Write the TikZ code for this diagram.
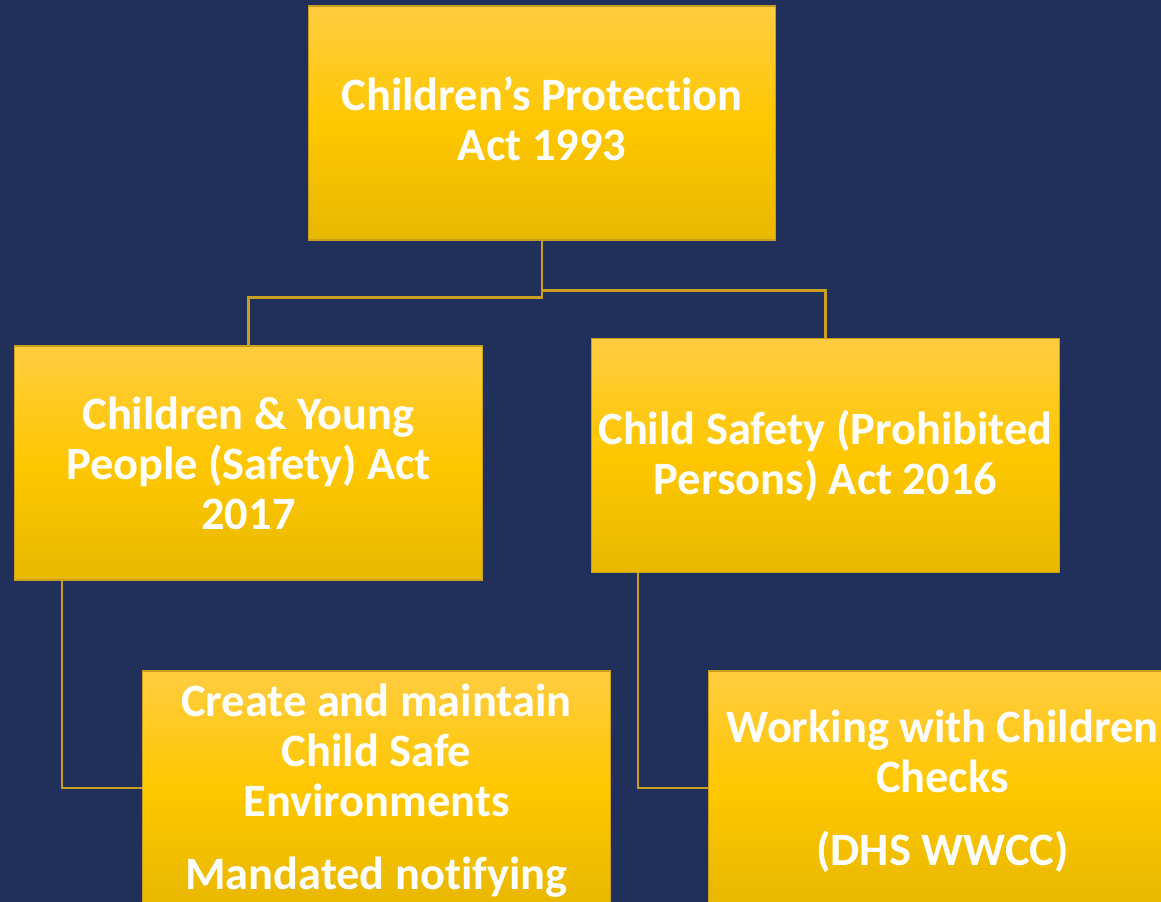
\documentclass[tikz,border=0pt]{standalone}
\usepackage{fontspec}
\setmainfont{Carlito}[Ligatures=NoCommon]
\usetikzlibrary{calc}
\definecolor{navy}{RGB}{32,48,90}
\definecolor{goldtop}{RGB}{255,204,64}
\definecolor{goldmid}{RGB}{255,199,0}
\definecolor{goldbot}{RGB}{232,184,0}
\definecolor{goldline}{RGB}{200,160,30}
\definecolor{goldlight}{RGB}{255,232,120}
\tikzset{
  actbox/.style={rectangle, inner sep=0pt, minimum width=9.36cm, minimum height=4.68cm,
    top color=goldtop, bottom color=goldbot, middle color=goldmid,
    draw=goldline, line width=0.6pt,
    path picture={\fill[goldlight] (path picture bounding box.north west) rectangle
      ($(path picture bounding box.north east)+(0,0.14cm)$);}},
  acttext/.style={text=white, align=center, font=\fontsize{26.4}{28.5}\selectfont\bfseries},
  link/.style={draw=goldline, line width=1.2pt}
}
\begin{document}
\begin{tikzpicture}[x=0.02cm, y=-0.02cm]
  \useasboundingbox (0,0) rectangle (1161,902);
  \clip (0,0) rectangle (1161,902);
  \fill[navy] (0,0) rectangle (1161,902);
  % boxes
  \node (cpa) [actbox] at (542,123) {};
  \node (cyp) [actbox] at (248.5,463) {};
  \node (cspp) [actbox] at (825.5,455.5) {};
  \node (cse) [actbox] at (376.5,788) {};
  \node (wwcc) [actbox] at (942.5,788) {};
  % connectors
  \path[link] (cpa.south) -- ++(0,57) -| (cyp.north)
              (cpa.south) -- ++(0,50) -| (cspp.north)
              ($(cyp.south west)+(48,0)$) |- (cse.west)
              ($(cspp.south west)+(47,0)$) |- (wwcc.west);
  % texts
  \node (t1) [acttext] at ([yshift=0.08cm]cpa.center) {Children’s Protection\\Act 1993};
  \node (t2) [acttext] at (cyp.center) {Children \& Young\\People (Safety) Act\\2017};
  \node (t3) [acttext] at (cspp.center) {Child Safety (Prohibited\\Persons) Act 2016};
  \node (t4) [acttext, anchor=north] at (376.5,678) {Create and maintain\\Child Safe\\Environments\\[0.46cm]Mandated notifying};
  \node (t5) [acttext, anchor=north] at (942.5,704) {Working with Children\\Checks\\[0.45cm](DHS WWCC)};
\end{tikzpicture}
\end{document}
